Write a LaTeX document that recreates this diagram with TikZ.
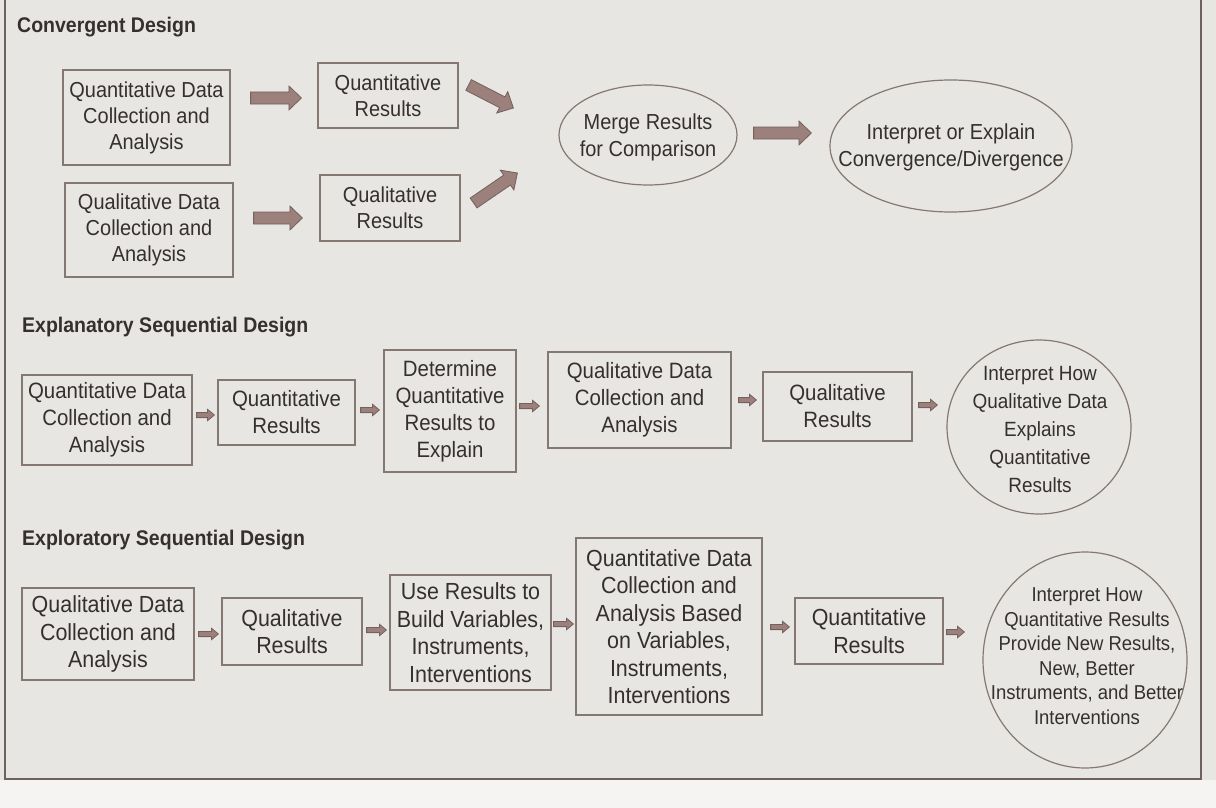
\documentclass[tikz,border=0pt]{standalone}
\usepackage{fontspec}
\setmainfont{Liberation Sans}[FakeStretch=0.92]
\usetikzlibrary{calc,shapes.geometric}

\definecolor{paper}{HTML}{E8E6E3}
\definecolor{paperout}{HTML}{F5F4F2}
\definecolor{ink}{HTML}{35302E}
\definecolor{rule}{HTML}{6F625E}
\definecolor{boxline}{HTML}{857873}
\definecolor{arrowfill}{HTML}{9C807C}
\definecolor{arrowline}{HTML}{74605C}

% Block arrow from coordinate #1 to coordinate #2:
% #3 half shaft width, #4 half head width, #5 head length
\newcommand\blockarrow[5]{%
  \coordinate (ba-h) at ($(#2)!#5!(#1)$);
  \filldraw[fill=arrowfill, draw=arrowline, line width=0.8pt, line join=miter]
    ($(#1)!#3!90:(#2)$) -- ($(ba-h)!#3!90:(#2)$) -- ($(ba-h)!#4!90:(#2)$)
    -- (#2) -- ($(ba-h)!#4!-90:(#2)$) -- ($(ba-h)!#3!-90:(#2)$)
    -- ($(#1)!#3!-90:(#2)$) -- cycle;
}
\newcommand\bigarrow[2]{\blockarrow{#1}{#2}{6pt}{12pt}{12.5pt}}
\newcommand\smallarrow[2]{\blockarrow{#1}{#2}{2.6pt}{5.8pt}{7pt}}

\begin{document}
\begin{tikzpicture}[x=1pt,y=-1pt,
  every node/.style={text=ink},
  heading/.style={anchor=west, inner sep=0pt, font=\bfseries\fontsize{21.2}{24}\selectfont},
  stepbox/.style={draw=boxline, line width=1.2pt, fill=paper, align=center, inner sep=0pt},
  convbox/.style={stepbox, font=\fontsize{21.7}{26}\selectfont},
  expbox/.style={stepbox, font=\fontsize{22.2}{27}\selectfont},
  explbox/.style={stepbox, font=\fontsize{23.3}{27.5}\selectfont},
  oval/.style={ellipse, draw=boxline, line width=1.2pt, inner sep=0pt},
  ovaltext/.style={align=center, inner sep=0pt},
]
\useasboundingbox (0,0) rectangle (1216,808);

% page and frame
\fill[paper] (0,0) rectangle (1216,808);
\fill[paperout] (0,780) rectangle (1216,808);
\draw[rule, line width=2pt] (5,-5) -- (5,779) -- (1201,779) -- (1201,-5);

% ---------------- Convergent Design ----------------
\node[heading] (h1) at (17,27) {Convergent Design};

\node[convbox, minimum width=167pt, minimum height=95pt] (c1) at (146.5,117.5)
  {Quantitative Data\\Collection and\\Analysis};
\node[convbox, minimum width=140pt, minimum height=65pt] (c2) at (388,95.5)
  {Quantitative\\Results};
\node[convbox, minimum width=168pt, minimum height=94pt] (c3) at (149,230)
  {Qualitative Data\\Collection and\\Analysis};
\node[convbox, minimum width=140pt, minimum height=66pt] (c4) at (390,208)
  {Qualitative\\Results};

\node[oval, minimum width=178pt, minimum height=100pt] (m) at (648,135) {};
\node[ovaltext, font=\fontsize{21.7}{27}\selectfont] (mt) at (648,137)
  {Merge Results\\for Comparison};
\node[oval, minimum width=242pt, minimum height=132pt] (i) at (951,146) {};
\node[ovaltext, font=\fontsize{21.7}{27}\selectfont] (it) at (951,147)
  {Interpret or Explain\\Convergence/Divergence};

\coordinate (ca1) at ($(c1.east |- 0,98)+(20,0)$);
\coordinate (ca2) at ($(c2.west |- 0,98)+(-16,0)$);
\bigarrow{ca1}{ca2}
\coordinate (cb1) at ($(c3.east |- 0,218)+(20,0)$);
\coordinate (cb2) at ($(c4.west |- 0,218)+(-17,0)$);
\bigarrow{cb1}{cb2}
\coordinate (cc1) at ($(c2.east)+(10,-10.5)$);
\coordinate (cc2) at ($(m.west)+(-45,-27)$);
\bigarrow{cc1}{cc2}
\coordinate (cd1) at ($(c4.east)+(13,-5)$);
\coordinate (cd2) at ($(m.west)+(-41,38)$);
\bigarrow{cd1}{cd2}
\coordinate (ce1) at ($(m.east |- 0,133)+(16,0)$);
\coordinate (ce2) at ($(i.west |- 0,133)+(-18,0)$);
\bigarrow{ce1}{ce2}

% ---------------- Explanatory Sequential Design ----------------
\node[heading] (h2) at (22,327) {Explanatory Sequential Design};

\node[expbox, minimum width=170pt, minimum height=90pt] (e1) at (107,420)
  {Quantitative Data\\Collection and\\Analysis};
\node[expbox, minimum width=137pt, minimum height=65pt] (e2) at (286.5,412.5)
  {Quantitative\\Results};
\node[expbox, minimum width=132pt, minimum height=122pt] (e3) at (450,411)
  {Determine\\Quantitative\\Results to\\Explain};
\node[expbox, minimum width=183pt, minimum height=96pt] (e4) at (639.5,400)
  {Qualitative Data\\Collection and\\Analysis};
\node[expbox, minimum width=149pt, minimum height=69pt] (e5) at (837.5,406.5)
  {Qualitative\\Results};
\node[oval, minimum width=184pt, minimum height=174pt] (e6) at (1039,427) {};
\node[ovaltext, font=\fontsize{20.6}{28}\selectfont] (e6t) at (1040,430)
  {Interpret How\\Qualitative Data\\Explains\\Quantitative\\Results};

\coordinate (ea1) at ($(e1.east |- 0,415)+(4,0)$);
\coordinate (ea2) at ($(e2.west |- 0,415)+(-3,0)$);
\smallarrow{ea1}{ea2}
\coordinate (eb1) at ($(e2.east |- 0,410)+(5,0)$);
\coordinate (eb2) at ($(e3.west |- 0,410)+(-4,0)$);
\smallarrow{eb1}{eb2}
\coordinate (ec1) at ($(e3.east |- 0,406)+(3,0)$);
\coordinate (ec2) at ($(e4.west |- 0,406)+(-8,0)$);
\smallarrow{ec1}{ec2}
\coordinate (ed1) at ($(e4.east |- 0,400)+(7,0)$);
\coordinate (ed2) at ($(e5.west |- 0,400)+(-6,0)$);
\smallarrow{ed1}{ed2}
\coordinate (ee1) at ($(e5.east |- 0,405)+(6,0)$);
\coordinate (ee2) at ($(e6.west |- 0,405)+(-9,0)$);
\smallarrow{ee1}{ee2}

% ---------------- Exploratory Sequential Design ----------------
\node[heading] (h3) at (22,540) {Exploratory Sequential Design};

\node[explbox, minimum width=172pt, minimum height=92pt] (x1) at (108,634)
  {Qualitative Data\\Collection and\\Analysis};
\node[explbox, minimum width=140pt, minimum height=67pt] (x2) at (292,631.5)
  {Qualitative\\Results};
\node[explbox, minimum width=161pt, minimum height=115pt] (x3) at (470.5,632.5)
  {Use Results to\\Build Variables,\\Instruments,\\Interventions};
\node[explbox, minimum width=186pt, minimum height=177pt] (x4) at (669,626.5)
  {Quantitative Data\\Collection and\\Analysis Based\\on Variables,\\Instruments,\\Interventions};
\node[explbox, minimum width=148pt, minimum height=66pt] (x5) at (869,631)
  {Quantitative\\Results};
\node[oval, minimum width=204pt, minimum height=216pt] (x6) at (1085,660) {};
\node[ovaltext, font=\fontsize{20.1}{24.5}\selectfont] (x6t) at (1087,656)
  {Interpret How\\Quantitative Results\\Provide New Results,\\New, Better\\Instruments, and Better\\Interventions};

\coordinate (xa1) at ($(x1.east |- 0,634)+(4,0)$);
\coordinate (xa2) at ($(x2.west |- 0,634)+(-3,0)$);
\smallarrow{xa1}{xa2}
\coordinate (xb1) at ($(x2.east |- 0,630)+(4,0)$);
\coordinate (xb2) at ($(x3.west |- 0,630)+(-3,0)$);
\smallarrow{xb1}{xb2}
\coordinate (xc1) at ($(x3.east |- 0,624)+(2,0)$);
\coordinate (xc2) at ($(x4.west |- 0,624)+(-2,0)$);
\smallarrow{xc1}{xc2}
\coordinate (xd1) at ($(x4.east |- 0,627)+(8,0)$);
\coordinate (xd2) at ($(x5.west |- 0,627)+(-5,0)$);
\smallarrow{xd1}{xd2}
\coordinate (xe1) at ($(x5.east |- 0,632)+(3,0)$);
\coordinate (xe2) at ($(x6.west |- 0,632)+(-18,0)$);
\smallarrow{xe1}{xe2}
\end{tikzpicture}
\end{document}
